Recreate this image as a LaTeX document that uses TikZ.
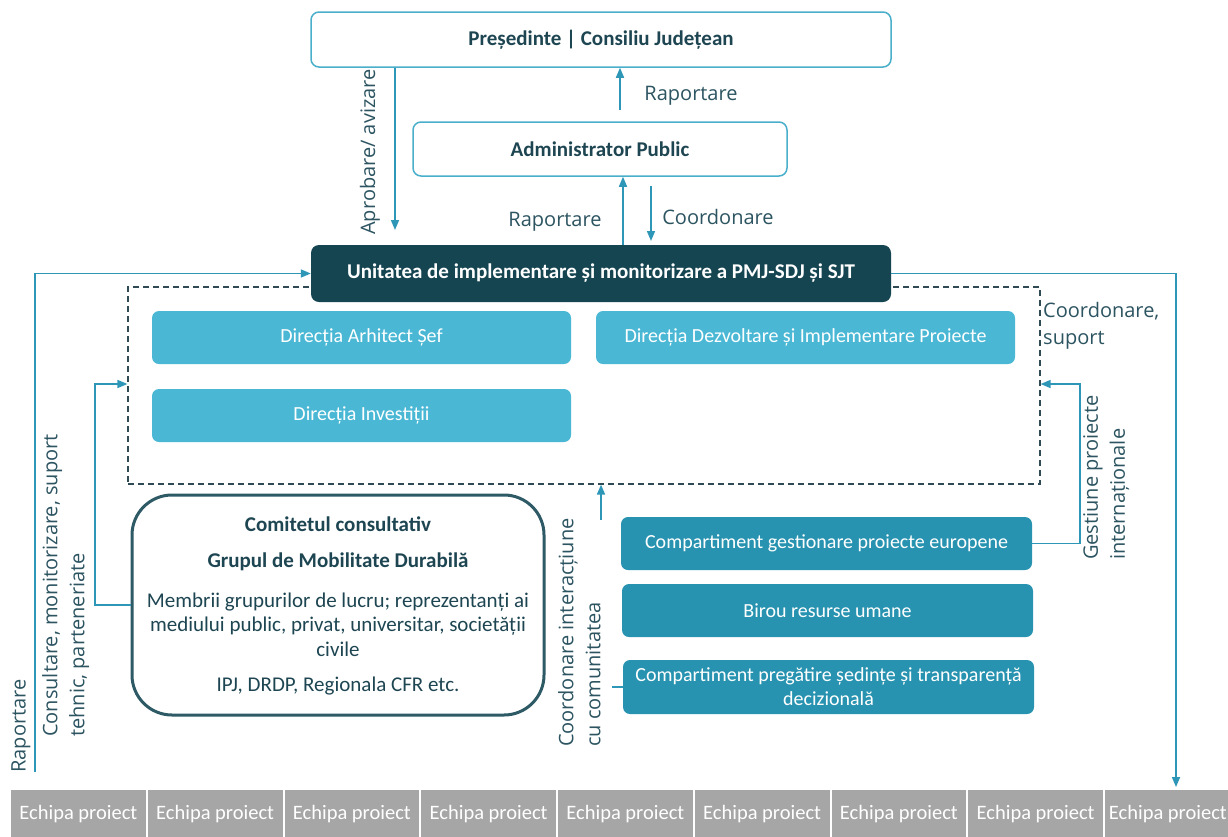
\documentclass[tikz,border=0pt]{standalone}
\usepackage{fontspec}
\setmainfont{Carlito}
\newfontfamily\lblfont{Open Sans}
\usetikzlibrary{arrows.meta,calc}
\definecolor{lightteal}{HTML}{4AAFCB}
\definecolor{darktxt}{HTML}{1E4652}
\definecolor{unitfill}{HTML}{164552}
\definecolor{dirfill}{HTML}{4AB8D5}
\definecolor{compfill}{HTML}{2893B0}
\definecolor{arrc}{HTML}{2E97B7}
\definecolor{lblc}{HTML}{2C5461}
\definecolor{dashc}{HTML}{2F4A55}
\definecolor{comitc}{HTML}{2E5A66}
\definecolor{grayfill}{HTML}{A6A6A6}
\tikzset{
  topbox/.style={draw=lightteal, line width=1.5pt, rounded corners=8pt, fill=white,
    text=darktxt, font=\fontsize{21}{24}\selectfont\bfseries, inner sep=0pt},
  unitbox/.style={fill=unitfill, rounded corners=8pt, text=white,
    font=\fontsize{21}{24}\selectfont\bfseries, inner sep=0pt},
  dirbox/.style={fill=dirfill, rounded corners=7pt, text=white,
    font=\fontsize{20}{24}\selectfont, inner sep=0pt, minimum width=419pt, minimum height=53pt},
  compbox/.style={fill=compfill, rounded corners=7pt, text=white, align=center,
    font=\fontsize{20}{24}\selectfont, inner sep=0pt, minimum width=411pt, minimum height=53pt},
  zonebox/.style={draw=dashc, line width=1.2pt, dash pattern=on 6pt off 4pt, inner sep=0pt},
  comitbox/.style={draw=comitc, line width=3pt, rounded corners=40pt, fill=white, inner sep=0pt},
  comittxt/.style={text=darktxt, font=\fontsize{21}{24}\selectfont, align=center},
  echbox/.style={fill=grayfill, draw=white, line width=2pt, text=white, inner sep=0pt,
    minimum width=136.75pt, minimum height=50pt, font=\fontsize{20.5}{24}\selectfont},
  arr/.style={draw=arrc, line width=1.6pt, -{Triangle[length=10pt,width=8pt]}},
  plainline/.style={draw=arrc, line width=1.6pt},
  lbl/.style={text=lblc, font=\lblfont\fontsize{20}{27}\selectfont, inner sep=0pt}
}
\begin{document}
\begin{tikzpicture}[x=1pt,y=-1pt]
\useasboundingbox (0,0) rectangle (1228,836);
\clip (0,0) rectangle (1228,836);
\fill[white] (0,0) rectangle (1228,836);

% dashed zone
\node[zonebox, minimum width=912pt, minimum height=197pt] (zone) at (584,385.5) {};

% top boxes
\node[topbox, minimum width=580pt, minimum height=55pt] (pres) at (601,39.5) {Președinte | Consiliu Județean};
\node[topbox, minimum width=374pt, minimum height=54pt] (admin) at (600,149) {Administrator Public};
\node[unitbox, minimum width=580pt, minimum height=57pt] (unit) at (601,273.5) {Unitatea de implementare și monitorizare a PMJ-SDJ și SJT};

% direction boxes
\node[dirbox] (arh) at (361.5,337.5) {Direcția Arhitect Șef};
\node[dirbox] (dezv) at (805.5,337.5) {Direcția Dezvoltare și Implementare Proiecte};
\node[dirbox] (inv) at (361.5,415.5) {Direcția Investiții};

% compartments
\node[compbox] (gest) at (826.5,543.5) {Compartiment gestionare proiecte europene};
\node[compbox] (birou) at (827.5,610.5) {Birou resurse umane};
\node[compbox, minimum height=54pt] (prep) at (828.5,687) {Compartiment pregătire ședințe și transparență\\decizională};

% comitetul
\node[comitbox, minimum width=412pt, minimum height=220pt] (comit) at (338,605) {};
\node[comittxt, font=\fontsize{21}{24}\selectfont\bfseries] (c1) at (338,524) {Comitetul consultativ};
\node[comittxt, font=\fontsize{21}{24}\selectfont\bfseries] (c2) at (338,562) {Grupul de Mobilitate Durabilă};
\node[comittxt, font=\fontsize{21}{24.5}\selectfont] (c3) at (338,624.5) {Membrii grupurilor de lucru; reprezentanți ai\\mediului public, privat, universitar, societății\\civile};
\node[comittxt] (c4) at (338,686) {IPJ, DRDP, Regionala CFR etc.};

% echipa proiect
\foreach \i in {0,...,7}{
  \node[echbox] (e\i) at ({10+136.75*\i+68.375},814) {Echipa proiect};
}
\node[echbox] (e8) at ({10+136.75*8+68.375},814) {Echipa proiect\hspace*{9pt}};

% connectors
\coordinate (r1s) at (620,110);
\draw[arr] (r1s) -- (r1s |- pres.south);
\coordinate (apE) at (395,230);
\draw[arr] (apE |- pres.south) -- (apE);
\coordinate (r2) at (623,0);
\draw[arr] (r2 |- unit.north) -- (r2 |- admin.south);
\coordinate (coS) at (651,186);
\coordinate (coE) at (651,241);
\draw[arr] (coS) -- (coE);
\coordinate (lb) at (35,772);
\draw[arr] (lb) |- (unit.west);
\coordinate (rb) at (1176,787);
\draw[arr] (unit.east) -| (rb);
\coordinate (cL) at (95,384);
\draw[arr] (comit.west) -| (cL) -- (cL -| zone.west);
\coordinate (gR) at (1080,384);
\draw[arr] (gest.east) -| (gR) -- (gR -| zone.east);
\coordinate (ciS) at (612,687);
\draw[plainline] (prep.west) -- (ciS);
\coordinate (ciA) at (601,520);
\draw[arr] (ciA) -- (ciA |- zone.south);

% labels
\node[lbl] (l1) at (691,96) {Raportare};
\node[lbl, rotate=90] (l2) at (370,152) {Aprobare/ avizare};
\node[lbl] (l3) at (555,222) {Raportare};
\node[lbl] (l4) at (718,217) {Coordonare};
\node[lbl, rotate=90] (l5) at (21,726) {Raportare};
\node[lbl, align=left, anchor=north west] (l6) at (1043,302) {Coordonare,\\suport};
\node[lbl, rotate=90, align=left, anchor=north west] (l7) at (42,737) {Consultare, monitorizare, suport\\tehnic, parteneriate};
\node[lbl, rotate=90, align=left, anchor=north west] (l8) at (1083,560) {Gestiune proiecte\\internaționale};
\node[lbl, rotate=90, align=left, anchor=north west] (l9) at (558,747) {Coordonare interacțiune\\cu comunitatea};
\end{tikzpicture}
\end{document}
